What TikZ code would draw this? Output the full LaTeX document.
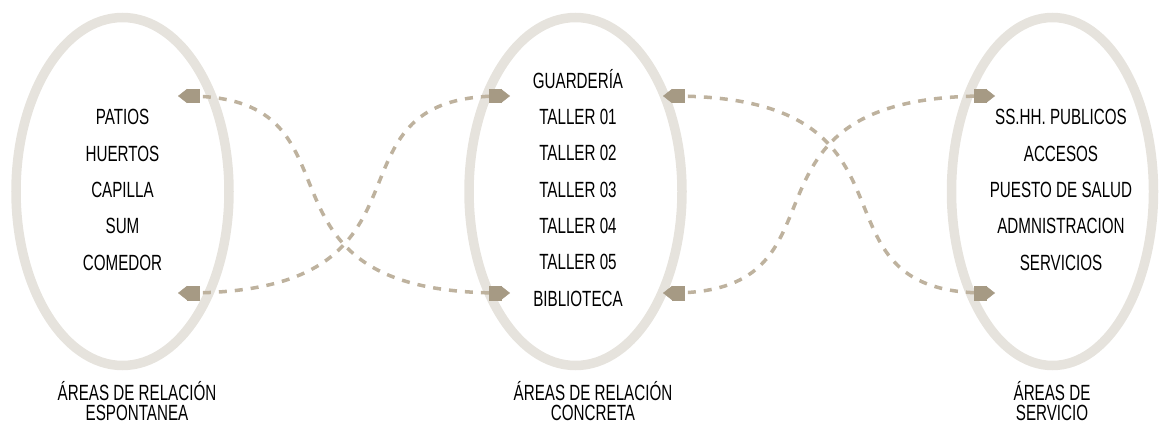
\documentclass[tikz,border=0pt]{standalone}
\usepackage{fontspec}
\setmainfont{Liberation Sans}[FakeStretch=0.69]
\usetikzlibrary{arrows.meta,shapes.geometric}

\definecolor{anillo}{RGB}{230,227,221}
\definecolor{trazo}{RGB}{190,178,158}
\definecolor{punta}{RGB}{166,154,132}

\tikzset{
  fin/.tip={Rectangle[length=12pt,width=14pt,line width=0.5pt,color=punta,fill=punta]
            Triangle[length=9pt,width=14pt,line width=0.5pt,color=punta,fill=punta]}
}

\begin{document}
\begin{tikzpicture}
  [
  x=1pt, y=-1pt, font=\fontsize{22}{22}\selectfont,
  %Voreinstellungen
  zona/.style={ellipse, draw=anillo, line width=9.5pt, minimum width=213pt, minimum height=348pt, inner sep=0pt},
  item/.style={text height=15.7pt, text depth=0pt, inner sep=0pt},
  titulo/.style={align=center, inner sep=0pt, font=\fontsize{22}{20.5}\selectfont},
  flecha/.style={trazo, line width=3.5pt, dash pattern=on 8pt off 8pt, fin-fin}
  ]
  \useasboundingbox (0,0) rectangle (1163,425);

  %Anillos
  \node[zona] (espont) at (122.5,191.5) {};
  \node[zona] (concr) at (575.5,191.5) {};
  \node[zona, minimum width=202pt] (serv) at (1052.5,191.5) {};

  %Listas
  \foreach \t [count=\i] in {PATIOS,HUERTOS,CAPILLA,SUM,COMEDOR}
    \node[item] (esp\i) at (122.5,{117+36.3*(\i-1)}) {\t};
  \foreach \t [count=\i] in {GUARDERÍA,TALLER 01,TALLER 02,TALLER 03,TALLER 04,TALLER 05,BIBLIOTECA}
    \node[item] (con\i) at (578,{80.5+36.3*(\i-1)}) {\t};
  \foreach \t [count=\i] in {SS.HH. PUBLICOS,ACCESOS,PUESTO DE SALUD,ADMNISTRACION,SERVICIOS}
    \node[item] (ser\i) at (1061,{117+36.3*(\i-1)}) {\t};

  %Titulos
  \node[titulo] (tit1) at (137,401) {ÁREAS DE RELACIÓN\\ESPONTANEA};
  \node[titulo] (tit2) at (593,401) {ÁREAS DE RELACIÓN\\CONCRETA};
  \node[titulo] (tit3) at (1052,401) {ÁREAS DE\\SERVICIO};

  %Puntos de las flechas
  \coordinate (a1) at (178,96);
  \coordinate (a2) at (178,293);
  \coordinate (b1) at (510,96);
  \coordinate (b2) at (510,293);
  \coordinate (c1) at (663,96);
  \coordinate (c2) at (663,293);
  \coordinate (d1) at (995,96);
  \coordinate (d2) at (995,293);

  %Relaciones
  \draw[flecha] (a1) .. controls +(200,0) and +(-280,0) .. (b2);
  \draw[flecha] (a2) .. controls +(280,0) and +(-200,0) .. (b1);
  \draw[flecha] (c1) .. controls +(280,0) and +(-200,0) .. (d2);
  \draw[flecha] (c2) .. controls +(200,0) and +(-280,0) .. (d1);
\end{tikzpicture}
\end{document}
